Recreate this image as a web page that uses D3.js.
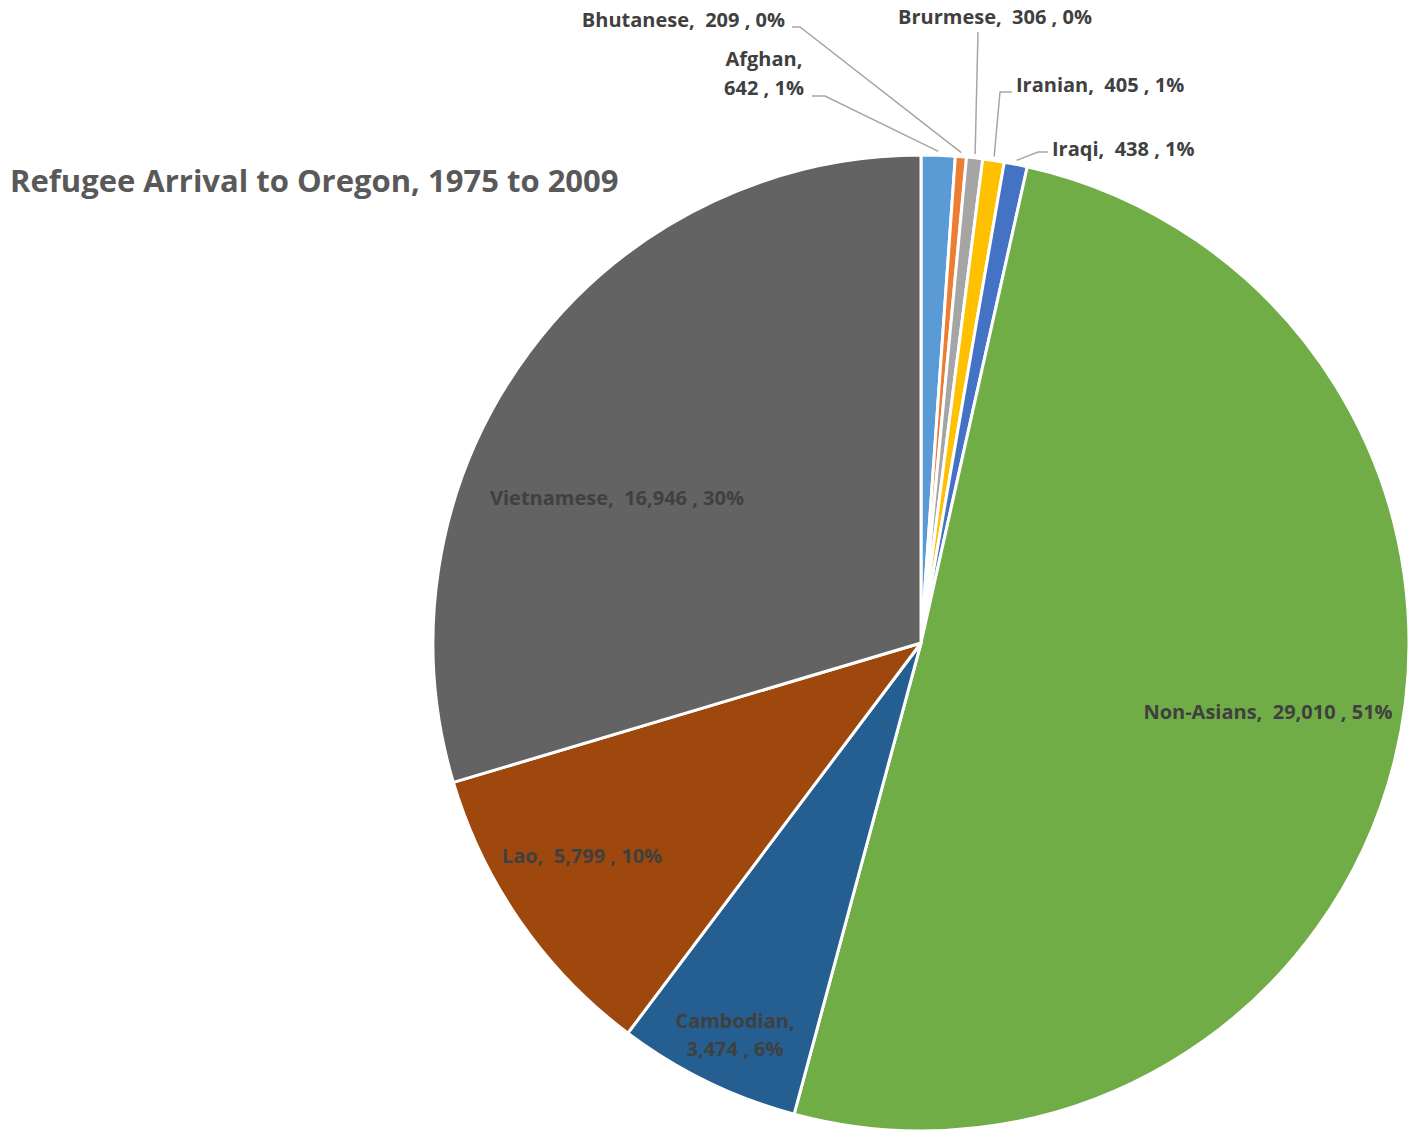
<!DOCTYPE html>
<html lang="en">
<head>
<meta charset="utf-8">
<title>Refugee Arrival to Oregon</title>
<style type="text/css">
  body { margin: 0; background: #fff; }
  svg text { font-family: "Open Sans", Lato, sans-serif; font-weight: bold; white-space: pre; }
</style>
</head>
<body>
<script src="https://cdn.jsdelivr.net/npm/d3@7"></script>
<script>

var w = 1409;
var h = 1132;

// data (clockwise from 12 o'clock)
var groups = ["Afghan", "Bhutanese", "Brurmese", "Iranian", "Iraqi", "Non-Asians", "Cambodian", "Lao", "Vietnamese"];
var arrivals = [642, 209, 306, 405, 438, 29010, 3474, 5799, 16946];
var percents = ["1%", "0%", "0%", "1%", "1%", "51%", "6%", "10%", "30%"];
var colors = ["#5b9bd5", "#ed7d31", "#a5a5a5", "#ffc000", "#4472c4", "#70ad47", "#255e91", "#9e480e", "#636363"];

var cx = 921, cy = 643, r = 488;

// label placement, outside ones get leader lines
var labelPos = [
  {x: 764, y: 66, anchor: "middle", split: true, gap: 29, elbow: [825, 96], start: [812, 96]},
  {x: 785, y: 27, anchor: "end", split: false, elbow: [800, 27], start: [792, 27]},
  {x: 898, y: 24, anchor: "start", split: false, elbow: [978, 32], start: [978, 32]},
  {x: 1016, y: 92, anchor: "start", split: false, elbow: [1000, 92], start: [1012, 92]},
  {x: 1052, y: 156, anchor: "start", split: false, elbow: [1038, 152], start: [1048, 152]},
  {x: 1268, y: 719, anchor: "middle", split: false},
  {x: 735, y: 1028, anchor: "middle", split: true, gap: 28},
  {x: 582, y: 863, anchor: "middle", split: false},
  {x: 617, y: 505, anchor: "middle", split: false}
];

var svg = d3.select("body")
    .append("svg")
    .attr("width", w)
    .attr("height", h);

var pie = d3.pie().sort(null).value(function(d) { return d; });
var arcs = pie(arrivals);

var arc = d3.arc().innerRadius(0).outerRadius(r);

var g = svg.append("g").attr("transform", "translate(" + cx + "," + cy + ")");

g.selectAll("path")
    .data(arcs)
    .enter()
    .append("path")
    .attr("d", arc)
    .attr("fill", function(d, i) { return colors[i]; })
    .attr("stroke", "#fff")
    .attr("stroke-width", 3)
    .attr("stroke-linejoin", "round");

// leader lines for the thin slices
var fmt = d3.format(",");
arcs.forEach(function(d, i) {
    var p = labelPos[i];
    if (!p.elbow) return;
    var a = (d.startAngle + d.endAngle) / 2;
    var ex = cx + Math.sin(a) * (r + 4);
    var ey = cy - Math.cos(a) * (r + 4);
    svg.append("polyline")
        .attr("points", [p.start, p.elbow, [ex, ey]].map(function(q) { return q.join(","); }).join(" "))
        .attr("fill", "none")
        .attr("stroke", "#a6a6a6")
        .attr("stroke-width", 1.5);
});

// labels
arcs.forEach(function(d, i) {
    var p = labelPos[i];
    var line1 = groups[i] + ",";
    var line2 = fmt(arrivals[i]) + " , " + percents[i];
    var t = svg.append("text")
        .attr("x", p.x)
        .attr("y", p.y)
        .attr("text-anchor", p.anchor)
        .attr("font-size", 20)
        .attr("fill", "#404040");
    if (p.split) {
        t.append("tspan").attr("x", p.x).text(line1);
        t.append("tspan").attr("x", p.x).attr("dy", p.gap).text(line2);
    } else {
        t.text(line1 + "  " + line2);
    }
});

// title
svg.append("text")
    .attr("x", 10)
    .attr("y", 192)
    .attr("font-size", 31)
    .attr("fill", "#595959")
    .text("Refugee Arrival to Oregon, 1975 to 2009");

</script>
</body>
</html>
